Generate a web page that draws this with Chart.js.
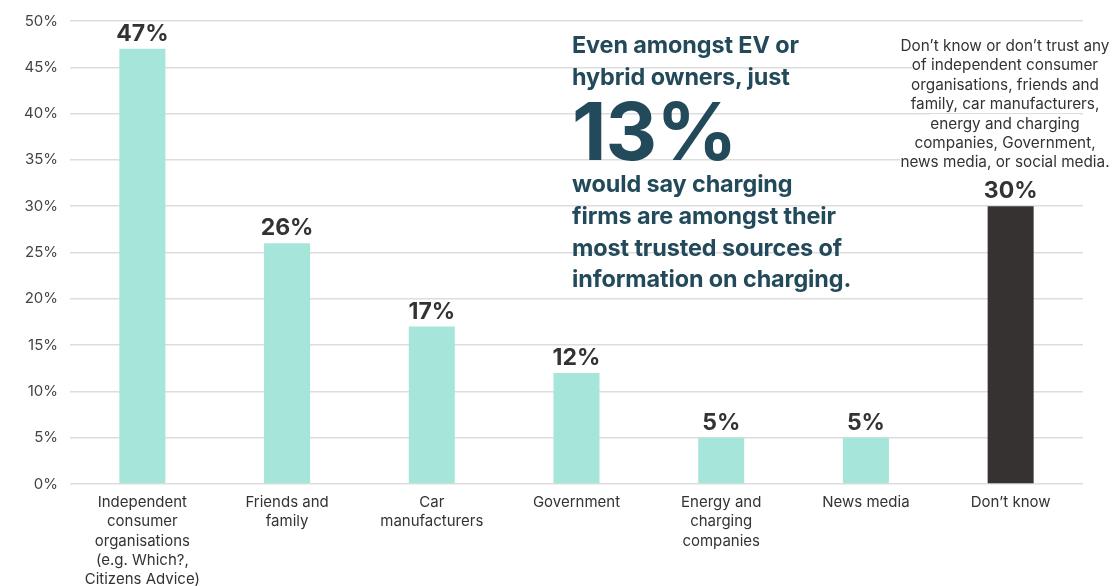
<!DOCTYPE html>
<html lang="en">
<head>
  <meta charset="UTF-8">
  <title>Most trusted sources of information on charging</title>
  <script src="https://cdn.jsdelivr.net/npm/chart.js"></script>
  <style>
    body {
      margin: 0;
      background: #ffffff;
      font-family: 'Inter', 'Noto Sans', sans-serif;
    }

    #wrap {
      position: relative;
      width: 1114px;
      height: 586px;
    }

    #callout {
      position: absolute;
      left: 572px;
      top: 29px;
      color: #234a5a;
      font-weight: 700;
      font-size: 23.4px;
      line-height: 31.5px;
      letter-spacing: -0.1px;
    }

    #callout .big {
      font-size: 80px;
      line-height: 78px;
      letter-spacing: -1px;
      margin: 0 0 -2px 0;
    }

    #callout .rest {
      line-height: 31.8px;
    }

    #note {
      position: absolute;
      left: 888px;
      width: 234px;
      top: 36px;
      text-align: center;
      color: #333333;
      font-size: 15.3px;
      line-height: 19.4px;
    }

    #note span {
      background: #ffffff;
    }
  </style>
</head>
<body>

  <div id="wrap">
    <canvas id="myChart"></canvas>

    <div id="callout">
      Even amongst EV or<br>
      hybrid owners, just
      <div class="big">13%</div>
      <div class="rest">would say charging<br>
      firms are amongst their<br>
      most trusted sources of<br>
      information on charging.</div>
    </div>

    <div id="note"><span>Don’t know or don’t trust any<br>of independent consumer<br>organisations, friends and<br>family, car manufacturers,<br>energy and charging<br>companies, Government,<br>news media, or social media.</span></div>
  </div>

  <script>
    // sources (x axis)
    var categories = [
      ['Independent', 'consumer', 'organisations', '(e.g. Which?,', 'Citizens Advice)'],
      ['Friends and', 'family'],
      ['Car', 'manufacturers'],
      ['Government'],
      ['Energy and', 'charging', 'companies'],
      ['News media'],
      ['Don’t know']
    ];

    // share of respondents, %
    var shares = [47, 26, 17, 12, 5, 5, 30];

    var barColors = ['#a6e5d9', '#a6e5d9', '#a6e5d9', '#a6e5d9', '#a6e5d9', '#a6e5d9', '#363232'];

    // y axis
    var yMax = 50;
    var yStep = 5;

    // values written above each bar
    var valueLabels = {
      id: 'valueLabels',
      afterDatasetsDraw: function(chart) {
        var ctx = chart.ctx;
        var meta = chart.getDatasetMeta(0);
        ctx.save();
        ctx.font = '700 23px Inter, sans-serif';
        ctx.fillStyle = '#333333';
        ctx.textAlign = 'center';
        ctx.textBaseline = 'alphabetic';
        meta.data.forEach(function(bar, i) {
          ctx.fillText(shares[i] + '%', bar.x, bar.y - 8);
        });
        ctx.restore();
      }
    };

    var ctx = document.getElementById('myChart').getContext('2d');
    var myChart = new Chart(ctx, {
      type: 'bar',
      data: {
        labels: categories,
        datasets: [{
          data: shares,
          backgroundColor: barColors,
          borderWidth: 0,
          barPercentage: 0.318,
          categoryPercentage: 1
        }]
      },
      options: {
        responsive: true,
        maintainAspectRatio: false,
        animation: false,
        layout: {
          padding: { top: 20, right: 31, left: 0, bottom: 0 }
        },
        plugins: {
          legend: { display: false },
          tooltip: { enabled: false }
        },
        scales: {
          x: {
            grid: { display: false },
            border: { display: false },
            ticks: {
              color: '#333333',
              padding: 1,
              maxRotation: 0,
              autoSkip: false,
              font: { family: 'Inter', size: 15, lineHeight: 1.28 }
            },
            afterFit: function(scale) { scale.height = 102; }
          },
          y: {
            min: 0,
            max: yMax,
            grid: {
              color: '#dddddd',
              lineWidth: 1.5,
              drawTicks: false
            },
            border: { display: false },
            ticks: {
              stepSize: yStep,
              color: '#444444',
              padding: 12,
              font: { family: 'Inter', size: 15 },
              callback: function(v) { return v + '%'; }
            },
            afterFit: function(scale) { scale.width = 70; }
          }
        }
      },
      plugins: [valueLabels]
    });
  </script>

</body>
</html>
